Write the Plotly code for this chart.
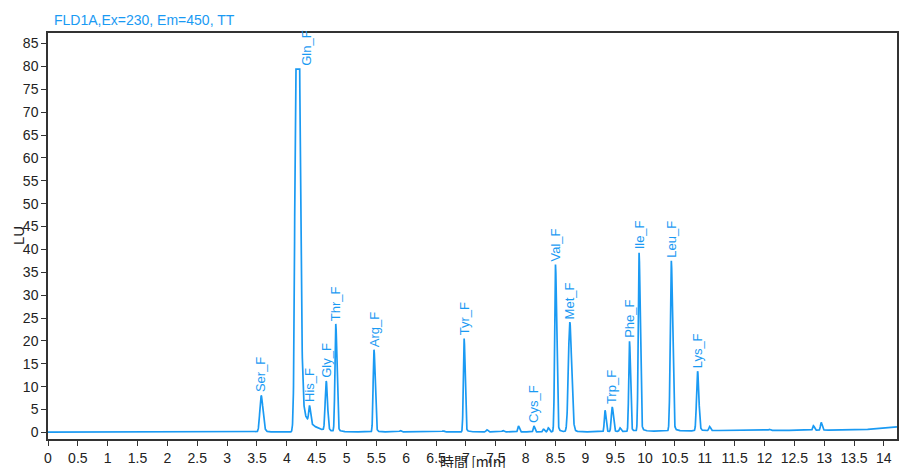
import numpy as np
import plotly.graph_objects as go

# ---- data ----
peak_names = ["Ser_F", "Gln_F", "His_F", "Gly_F", "Thr_F", "Arg_F", "Tyr_F", "Cys_F",
              "Val_F", "Met_F", "Trp_F", "Phe_F", "Ile_F", "Leu_F", "Lys_F"]
peak_times = [3.57, 4.17, 4.38, 4.66, 4.82, 5.46, 6.97, 8.14,
              8.50, 8.74, 9.45, 9.74, 9.90, 10.44, 10.88]
peak_heights = [8.0, 150.0, 3.6, 10.8, 23.5, 18.0, 20.4, 1.3,
                36.6, 24.0, 5.4, 19.7, 39.0, 37.2, 13.0]
peak_sig_left = [0.022, 0.025, 0.013, 0.017, 0.014, 0.014, 0.013, 0.012,
                 0.014, 0.024, 0.015, 0.013, 0.014, 0.017, 0.017]
peak_sig_right = [0.030, 0.040, 0.017, 0.021, 0.019, 0.019, 0.016, 0.014,
                  0.019, 0.030, 0.019, 0.016, 0.019, 0.021, 0.021]
peak_tail_frac = [0.05, 0.06, 0.04, 0.04, 0.04, 0.04, 0.04, 0.04,
                  0.04, 0.04, 0.04, 0.04, 0.04, 0.04, 0.04]
peak_tail_tau = [0.08, 0.15, 0.05, 0.05, 0.05, 0.05, 0.05, 0.05,
                 0.05, 0.06, 0.05, 0.05, 0.05, 0.05, 0.05]

minor_times = [0.78, 1.35, 5.90, 6.62, 7.35, 7.62, 7.88, 8.30, 8.38, 9.33, 9.58,
               11.08, 12.08, 12.82, 12.95]
minor_heights = [0.15, 0.1, 0.3, 0.25, 0.5, 0.3, 1.3, 0.6, 0.9, 4.7, 0.8,
                 0.9, 0.25, 1.0, 1.7]

baseline_times = [0.0, 9.0, 11.2, 13.6, 14.22]
baseline_values = [0.05, 0.1, 0.4, 0.5, 1.2]

saturation_level = 79.4

# ---- build the trace ----
t = np.arange(0.0, 14.22 + 1e-9, 0.002)
signal = np.interp(t, baseline_times, baseline_values)


def shape(tt, t0, h, sl, sr, f, tau):
    d = tt - t0
    left = h * np.exp(-d ** 2 / (2 * sl ** 2))
    right = h * ((1 - f) * np.exp(-d ** 2 / (2 * sr ** 2)) + f * np.exp(-np.clip(d, 0, None) / tau))
    return np.where(d < 0, left, right)


for i in range(len(peak_times)):
    signal = signal + shape(t, peak_times[i], peak_heights[i], peak_sig_left[i],
                            peak_sig_right[i], peak_tail_frac[i], peak_tail_tau[i])
for i in range(len(minor_times)):
    signal = signal + shape(t, minor_times[i], minor_heights[i], 0.012, 0.016, 0.04, 0.04)

signal = np.minimum(signal, saturation_level)

blue = "#1a9af3"

fig = go.Figure()
fig.add_trace(go.Scatter(x=t, y=signal, mode="lines",
                         line=dict(color=blue, width=1.7), hoverinfo="skip",
                         showlegend=False))

for i, name in enumerate(peak_names):
    idx = np.argmin(np.abs(t - peak_times[i]))
    y_top = float(signal[idx])
    x_pos = peak_times[i]
    if name == "Gln_F":
        x_pos = peak_times[i] + 0.17
    fig.add_annotation(x=x_pos, y=y_top, text=name, textangle=-90,
                       showarrow=False, xanchor="center", yanchor="bottom",
                       yshift=1, font=dict(family="Liberation Sans", size=13, color=blue))

fig.update_layout(
    width=904, height=468,
    margin=dict(l=48, r=7, t=33, b=29, autoexpand=False),
    paper_bgcolor="white", plot_bgcolor="white",
    font=dict(family="Liberation Sans", size=14, color="#222222"),
    annotations=list(fig.layout.annotations) + [
        dict(text="FLD1A,Ex=230, Em=450, TT", xref="paper", yref="paper",
             x=0.005, y=1.0, yshift=3, xanchor="left", yanchor="bottom", showarrow=False,
             font=dict(family="Liberation Sans", size=14, color=blue)),
        dict(text="時間 [min]", xref="paper", yref="paper", x=0.5, y=0, yshift=-34,
             xanchor="center", yanchor="bottom", showarrow=False,
             font=dict(family="Noto Sans CJK JP", size=14, color="#222222")),
        dict(text="LU", xref="paper", yref="paper", x=0, xshift=-30, y=0.5,
             textangle=-90, xanchor="center", yanchor="middle", showarrow=False,
             font=dict(family="Liberation Sans", size=15, color="#222222")),
    ],
)

fig.update_xaxes(range=[0, 14.22], tick0=0, dtick=0.5, ticks="outside", ticklen=5,
                 tickcolor="#333333", showline=True, linecolor="#333333", linewidth=1.5,
                 mirror=True, showgrid=False, zeroline=False, automargin=False,
                 tickfont=dict(family="Liberation Sans", size=14, color="#222222"))
fig.update_yaxes(range=[-1.45, 87.3], tick0=0, dtick=5, ticks="outside", ticklen=5,
                 tickcolor="#333333", showline=True, linecolor="#333333", linewidth=1.5,
                 mirror=True, showgrid=False, zeroline=False, automargin=False,
                 tickfont=dict(family="Liberation Sans", size=14, color="#222222"))

fig.write_html("out.html", config={"displayModeBar": False},
               post_script="document.body.style.margin='0';document.body.style.overflow='hidden';")
